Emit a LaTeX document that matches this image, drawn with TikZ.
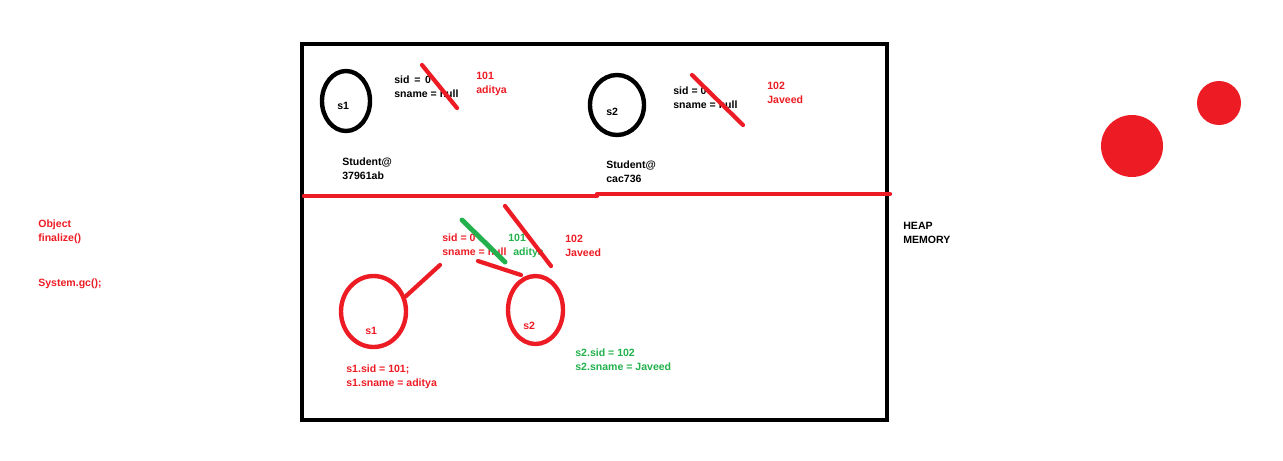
\documentclass[tikz,border=0pt]{standalone}
\usepackage{fontspec}
\setmainfont{Liberation Sans}
\usetikzlibrary{shapes.geometric}

\definecolor{paintred}{RGB}{237,28,36}
\definecolor{paintgreen}{RGB}{34,177,76}

\tikzset{
  lbl/.style={anchor=base west, inner sep=0pt, font=\fontsize{6}{7}\selectfont\bfseries},
  rlbl/.style={lbl, text=paintred},
  glbl/.style={lbl, text=paintgreen},
  obj/.style={ellipse, draw, line width=2.5pt, inner sep=0pt},
  stroke/.style={line width=2.4pt, line cap=round},
}

\begin{document}
\begin{tikzpicture}[x=0.02cm, y=-0.02cm]
  \useasboundingbox (0,0) rectangle (1283,460);

  % heap box and divider
  \draw [line width=2.6pt] (302,44) rectangle (887,420);
  \draw [stroke, paintred] (304,196) -- (597,196);
  \draw [stroke, paintred] (597,194) -- (890,194);
  \node (heap1) at (903,229) [lbl] {HEAP};
  \node (heap2) at (903,243) [lbl] {MEMORY};

  % left notes
  \node (obj1) at (38,227) [rlbl] {Object};
  \node (obj2) at (38,241) [rlbl] {finalize()};
  \node (gc) at (38,286) [rlbl] {System.gc();};

  % first object, top half
  \node (s1a) at (346,101) [obj, minimum width=48*0.02cm, minimum height=60*0.02cm] {};
  \node (s1alab) at (337,109) [lbl] {s1};
  \node (sida) at (394,83) [lbl] {sid \,=\, 0};
  \node (snamea) at (394,97) [lbl] {sname = null};
  \draw [stroke, paintred] (422,65) -- (457,108);
  \node (vala1) at (476,79) [rlbl] {101};
  \node (vala2) at (476,93) [rlbl] {aditya};
  \node (adra1) at (342,165) [lbl] {Student@};
  \node (adra2) at (342,179) [lbl] {37961ab};

  % second object, top half
  \node (s2a) at (617,105) [obj, minimum width=54*0.02cm, minimum height=60*0.02cm] {};
  \node (s2alab) at (606,115) [lbl] {s2};
  \node (sidb) at (673,94) [lbl] {sid = 0};
  \node (snameb) at (673,108) [lbl] {sname = null};
  \draw [stroke, paintred] (692,75) -- (743,125);
  \node (valb1) at (767,89) [rlbl] {102};
  \node (valb2) at (767,103) [rlbl] {Javeed};
  \node (adrb1) at (606,168) [lbl] {Student@};
  \node (adrb2) at (606,182) [lbl] {cac736};

  % bottom half
  \node (s1b) at (373.5,311.5) [obj, draw=paintred, minimum width=65*0.02cm, minimum height=71*0.02cm] {};
  \node (s1blab) at (365,334) [rlbl] {s1};
  \node (s2b) at (535.5,310) [obj, draw=paintred, minimum width=55*0.02cm, minimum height=68*0.02cm] {};
  \node (s2blab) at (523,329) [rlbl] {s2};

  \node (sidc) at (442,241) [rlbl] {sid = 0};
  \node (snamec) at (442,255) [rlbl] {sname = null};
  \node (valc1) at (508,241) [glbl] {101};
  \node (valc2) at (513,255) [glbl] {aditya};
  \node (vald1) at (565,242) [rlbl] {102};
  \node (vald2) at (565,256) [rlbl] {Javeed};

  \coordinate (refa) at (440,265);
  \coordinate (refb) at (521,275);
  \draw [stroke, paintred] (s1b.25) -- (refa);
  \draw [stroke, paintred] (478,261) -- (refb);
  \draw [stroke, paintgreen, line width=2.8pt] (462,220) -- (505,262);
  \draw [stroke, paintred] (505,206) -- (551,266);

  \node (set1a) at (346,372) [rlbl] {s1.sid = 101;};
  \node (set1b) at (346,386) [rlbl] {s1.sname = aditya};
  \node (set2a) at (575,356) [glbl] {s2.sid = 102};
  \node (set2b) at (575,370) [glbl] {s2.sname = Javeed};

  % red dots
  \fill [paintred] (1132,146) circle [radius=31];
  \fill [paintred] (1219,103) circle [radius=22];
\end{tikzpicture}
\end{document}
